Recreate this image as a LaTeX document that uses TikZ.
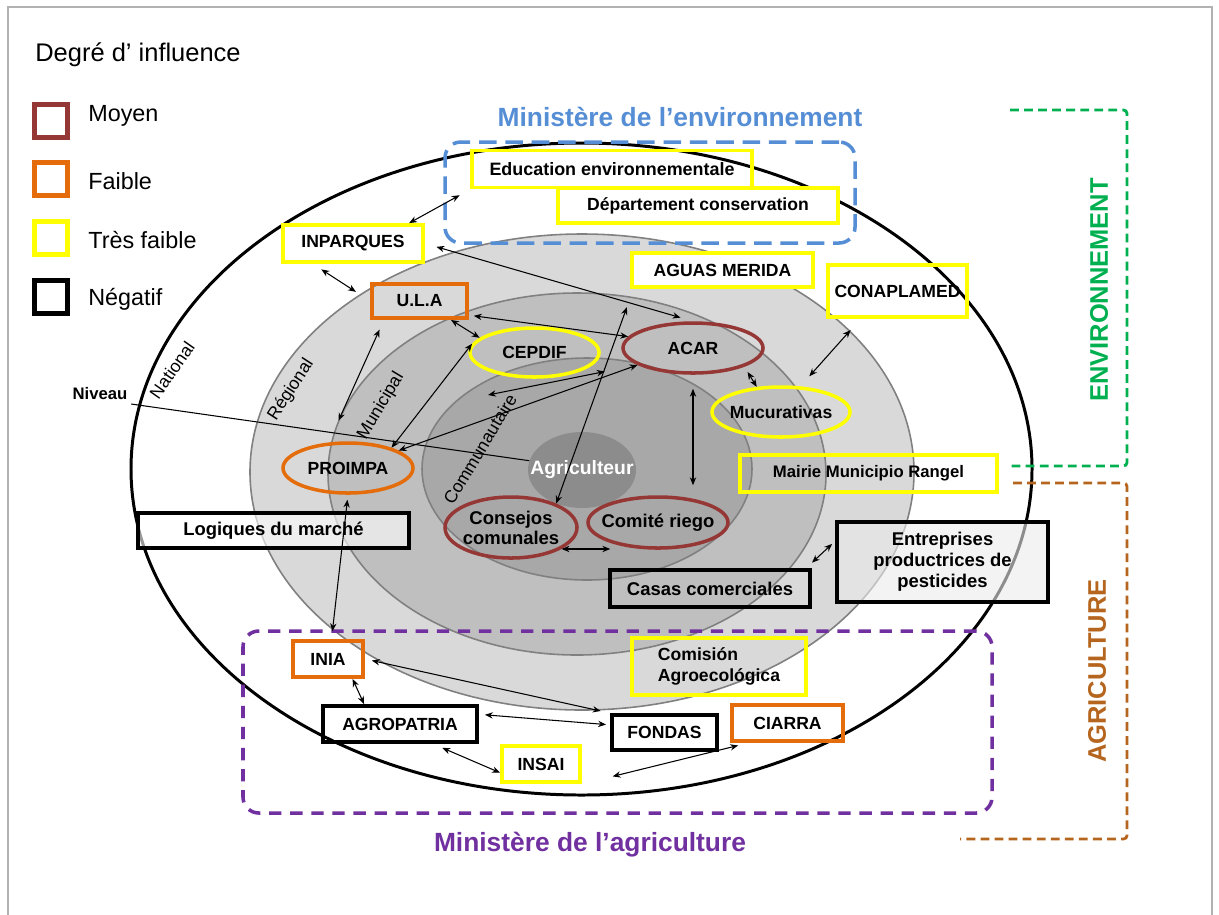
\documentclass[tikz,border=0pt]{standalone}
\usepackage{fontspec}
\setmainfont{Liberation Sans}
\usetikzlibrary{arrows.meta, positioning, shapes.geometric, calc}
\definecolor{moyenRed}{HTML}{953735}
\definecolor{faibleOrange}{HTML}{E46C0A}
\definecolor{tresYellow}{HTML}{FFFF00}
\definecolor{envBlue}{HTML}{558ED5}
\definecolor{agriPurple}{HTML}{7030A0}
\definecolor{envGreen}{HTML}{00B050}
\definecolor{agriBrown}{HTML}{B5651D}
\definecolor{ringA}{HTML}{D9D9D9}
\definecolor{ringB}{HTML}{BFBFBF}
\definecolor{ringC}{HTML}{A8A8A8}
\definecolor{ringD}{HTML}{8C8C8C}
\newcommand{\pxl}[1]{#1*0.02cm}

\begin{document}
\begin{tikzpicture}[x=0.02cm, y=-0.02cm,
    actor/.style={rectangle, line width=2.2pt, inner sep=0pt,
                  font=\fontsize{10}{12}\selectfont\bfseries},
    ovalactor/.style={ellipse, line width=2pt, inner xsep=-8pt, inner ysep=-2pt,
                  font=\fontsize{10}{12}\selectfont\bfseries},
    moyen/.style={draw=moyenRed},
    faible/.style={draw=faibleOrange},
    tresfaible/.style={draw=tresYellow},
    negatif/.style={draw=black},
    legbox/.style={rectangle, line width=2.3pt, minimum size=\pxl{33}, inner sep=0pt},
    leglabel/.style={anchor=west, inner sep=0pt, font=\fontsize{13.3}{15}\selectfont},
    ringlabel/.style={font=\fontsize{10}{12}\selectfont, inner sep=1pt},
    ring/.style={draw=gray, line width=0.9pt},
    ministry/.style={rectangle, rounded corners=9pt, line width=2pt, inner sep=0pt},
    biarr/.style={{Stealth[length=4.5pt,width=3.6pt]}-{Stealth[length=4.5pt,width=3.6pt]},
                  line width=0.6pt},
  ]
    \useasboundingbox (0,0) rectangle (1219,914);
    \draw[gray!60, line width=1.2pt] (8,930) -- (8,7) -- (1212,7) -- (1212,930);

    % legend
    \node[anchor=west, inner sep=0pt, font=\fontsize{14.5}{17}\selectfont] (titre) at (35,55) {Degré d’ influence};
    \node[legbox, moyen] (leg1) at (51,121) {};
    \node[legbox, faible] (leg2) at (51,179) {};
    \node[legbox, tresfaible] (leg3) at (51,238) {};
    \node[legbox, negatif] (leg4) at (51,297) {};
    \node[leglabel] at (88,116) {Moyen};
    \node[leglabel] at (88,181) {Faible};
    \node[leglabel] at (88,240) {Très faible};
    \node[leglabel] at (88,299) {Négatif};

    % levels
    \draw[fill=white, line width=1.7pt] (581.5,469) ellipse [x radius=450.5, y radius=326];
    \draw[ring, fill=ringA] (582,472) ellipse [x radius=332, y radius=238];
    \draw[ring, fill=ringB] (577,474) ellipse [x radius=249, y radius=181];
    \draw[ring, fill=ringC] (587,469) ellipse [x radius=165, y radius=111];
    \node[ellipse, fill=ringD, minimum width=\pxl{108}, minimum height=\pxl{76}, inner xsep=-9pt,
          text=white, font=\fontsize{11}{13}\selectfont\bfseries] (agri) at (582,470) {Agriculteur};

    \node[ringlabel, rotate=55] (lnat) at (172,370) {National};
    \node[ringlabel, rotate=57] (lreg) at (291,390) {Régional};
    \node[ringlabel, rotate=59] (lmun) at (381,406) {Municipal};
    \node[ringlabel, rotate=59] (lcom) at (480,449) {Communautaire};
    \node[font=\fontsize{9.5}{11}\selectfont\bfseries, inner sep=2pt] (niveau) at (100,394) {Niveau};
    \draw[line width=0.6pt] (niveau.south east) -- (agri.170);

    % ministries
    \node[ministry, draw=envBlue, dash pattern=on 10pt off 5pt,
          minimum width=\pxl{410}, minimum height=\pxl{101}] (minenv) at (650,192.5) {};
    \node[text=envBlue, font=\fontsize{15}{18}\selectfont\bfseries] (titreenv) at (680,117) {Ministère de l’environnement};
    \node[ministry, draw=agriPurple, dash pattern=on 7pt off 5pt,
          minimum width=\pxl{749}, minimum height=\pxl{182}] (minagri) at (617.5,722) {};
    \node[text=agriPurple, font=\fontsize{15}{18}\selectfont\bfseries] (titreagri) at (590,845) {Ministère de l’agriculture};

    % actors
    \node[actor, tresfaible, minimum width=\pxl{280}, minimum height=\pxl{37},
          font=\fontsize{10.2}{12}\selectfont\bfseries] (edu) at (612,169) {Education environnementale};
    \node[actor, tresfaible, fill=white, minimum width=\pxl{280}, minimum height=\pxl{35}] (dep) at (698,205.5) {Département conservation};
    \node[actor, tresfaible, minimum width=\pxl{140}, minimum height=\pxl{37}] (inparques) at (353,243.5) {INPARQUES};
    \node[actor, faible, minimum width=\pxl{95}, minimum height=\pxl{34}] (ula) at (419.5,301) {U.L.A};
    \node[actor, tresfaible, fill=white, minimum width=\pxl{181}, minimum height=\pxl{34}] (aguas) at (722.5,270) {AGUAS MERIDA};
    \node[actor, tresfaible, minimum width=\pxl{139}, minimum height=\pxl{52}] (conap) at (897.5,291) {CONAPLAMED};
    \node[ovalactor, tresfaible, minimum width=\pxl{129}, minimum height=\pxl{49}] (cepdif) at (534.5,352.5) {CEPDIF};
    \node[ovalactor, moyen, minimum width=\pxl{140}, minimum height=\pxl{50}] (acar) at (693,348) {ACAR};
    \node[ovalactor, tresfaible, minimum width=\pxl{138}, minimum height=\pxl{50}] (mucur) at (781,412) {Mucurativas};
    \node[actor, tresfaible, minimum width=\pxl{257}, minimum height=\pxl{37},
          font=\fontsize{9.5}{11}\selectfont\bfseries] (mairie) at (868.5,473.5) {Mairie Municipio Rangel};
    \node[ovalactor, faible, minimum width=\pxl{130}, minimum height=\pxl{50}] (proimpa) at (348,468) {PROIMPA};
    \node[actor, negatif, fill=white, fill opacity=0.6, text opacity=1, minimum width=\pxl{271}, minimum height=\pxl{35},
          font=\fontsize{10.5}{12}\selectfont\bfseries] (logiques) at (273.5,530.5) {Logiques du marché};
    \node[ovalactor, moyen, minimum width=\pxl{132}, minimum height=\pxl{61}, align=center,
          font=\fontsize{10.5}{11.5}\selectfont\bfseries] (consejos) at (511,527.5) {Consejos\\comunales};
    \node[ovalactor, moyen, minimum width=\pxl{140}, minimum height=\pxl{51},
          font=\fontsize{10.5}{12}\selectfont\bfseries] (comite) at (658,522.5) {Comité riego};
    \node[actor, negatif, minimum width=\pxl{200}, minimum height=\pxl{37},
          font=\fontsize{10.5}{12}\selectfont\bfseries] (casas) at (710,588.5) {Casas comerciales};
    \node[actor, negatif, fill=black!8, fill opacity=0.6, text opacity=1, minimum width=\pxl{211}, minimum height=\pxl{80},
          align=center, font=\fontsize{10.5}{12}\selectfont\bfseries] (entre) at (942.5,562) {Entreprises\\productrices de\\pesticides};
    \node[actor, tresfaible, minimum width=\pxl{174}, minimum height=\pxl{57}, align=left] (comision) at (719,666.5) {Comisión\\Agroecológica};
    \node[actor, negatif, minimum width=\pxl{105}, minimum height=\pxl{35}] (fondas) at (664.5,732.5) {FONDAS};
    \node[actor, faible, minimum width=\pxl{111}, minimum height=\pxl{36}] (ciarra) at (787.5,723) {CIARRA};
    \node[actor, faible, minimum width=\pxl{70}, minimum height=\pxl{36}] (inia) at (328,659) {INIA};
    \node[actor, negatif, minimum width=\pxl{154}, minimum height=\pxl{36}] (agro) at (400,724) {AGROPATRIA};
    \node[actor, tresfaible, minimum width=\pxl{78}, minimum height=\pxl{36}] (insai) at (541,764) {INSAI};

    % influences
    \coordinate (commun) at (488,395);
    \draw[biarr, shorten >=6.8pt] (inparques.20) -- (edu.south west);
    \draw[biarr, shorten <=6.8pt, shorten >=7.4pt] (inparques.east) -- (acar.north);
    \draw[biarr, shorten <=5.7pt, shorten >=9.6pt] (inparques.207) -- (ula.west);
    \draw[biarr, shorten <=2.8pt] (ula.-16) -- (acar.170);
    \draw[biarr] (ula.-31) -- (cepdif.165);
    \draw[biarr, shorten <=6pt, shorten >=13.6pt] (ula.208) -- (proimpa.127);
    \draw[biarr] (cepdif.172) -- (proimpa.25);
    \draw[biarr] (acar.197) -- (proimpa.19);
    \draw[biarr, shorten <=19pt] (acar.197) -- (commun);
    \draw[biarr, shorten <=11pt] (aguas.192) -- (consejos.28);
    \draw[biarr, shorten <=8pt, shorten >=5.7pt] (acar.south) -- (acar.south |- comite.north);
    \draw[biarr, shorten <=3.5pt] (acar.-20) -- (mucur.134);
    \draw[biarr, shorten <=8.4pt, shorten >=7.6pt] (conap.217) -- (mucur.53);
    \draw[biarr, shorten >=7.7pt] (consejos.-23) -- (consejos.-23 -| comite.215);
    \draw[biarr, shorten <=4.5pt, shorten >=2.3pt] (casas.12) -- (entre.169);
    \draw[biarr, shorten <=2.8pt, shorten >=4.5pt] (proimpa.south) -- (inia.80);
    \draw[biarr, shorten <=4pt, shorten >=5.5pt] (inia.east) -- (fondas.north west);
    \draw[biarr] (inia.-39) -- (agro.151);
    \draw[biarr, shorten <=3.4pt, shorten >=2.3pt] (agro.7) -- (fondas.172);
    \draw[biarr, shorten <=5.7pt] (agro.-31) -- (insai.192);
    \draw[biarr, shorten <=18pt, shorten >=6pt] (insai.south east) -- (ciarra.207);

    % domains
    \draw[envGreen, line width=1.6pt, dash pattern=on 5pt off 3pt, rounded corners=2pt]
      (1010,110) -- (1127,110) -- (1127,466) -- (1008,466);
    \node[text=envGreen, rotate=90, font=\fontsize{14.5}{17}\selectfont\bfseries] (envlab) at (1099,290) {ENVIRONNEMENT};
    \draw[agriBrown, line width=1.6pt, dash pattern=on 5pt off 3pt, rounded corners=2pt]
      (1013,483) -- (1127,483) -- (1127,839) -- (960,839);
    \node[text=agriBrown, rotate=90, font=\fontsize{14.5}{17}\selectfont\bfseries] (agrilab) at (1097,671) {AGRICULTURE};
  \end{tikzpicture}
\end{document}
